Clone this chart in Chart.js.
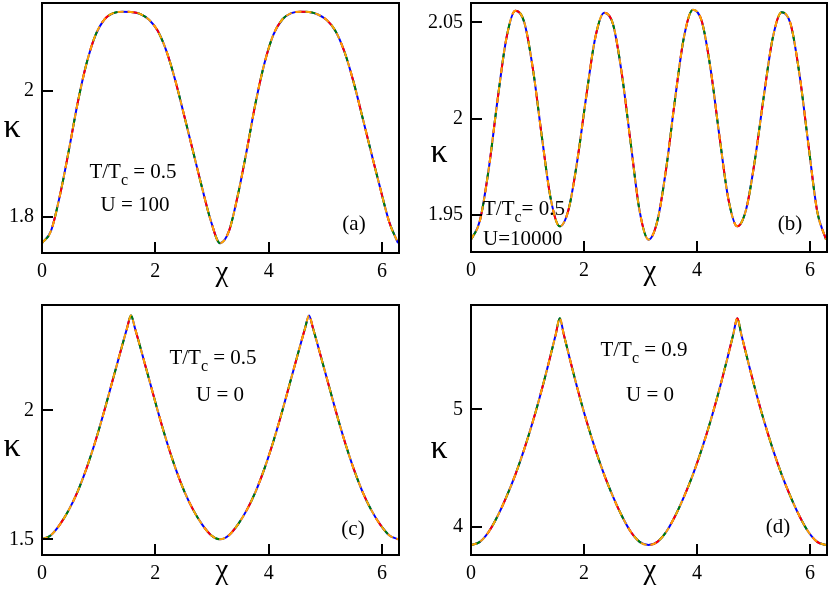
<!DOCTYPE html>
<html><head><meta charset="utf-8">
<script src="https://cdn.jsdelivr.net/npm/chart.js@4/dist/chart.umd.min.js"></script>
<style>
html,body{margin:0;padding:0;background:#fff;}
#wrap{position:relative;width:830px;height:592px;overflow:hidden;background:#fff;}
#wrap canvas{position:absolute;}
</style></head><body>
<div id="wrap">
<canvas id="ca" width="415" height="296" style="left:0;top:0"></canvas>
<canvas id="cb" width="415" height="296" style="left:415px;top:0"></canvas>
<canvas id="cc" width="415" height="296" style="left:0;top:296px"></canvas>
<canvas id="cd" width="415" height="296" style="left:415px;top:296px"></canvas>
</div>
<script>
// ---- data ----
const chi = [0, 0.1571, 0.3142, 0.4712, 0.6283, 0.7854, 0.9425, 1.0996, 1.2566, 1.4137,
  1.5708, 1.7279, 1.8850, 2.0420, 2.1991, 2.3562, 2.5133, 2.6704, 2.8274, 2.9845,
  3.1416, 3.2987, 3.4558, 3.6128, 3.7699, 3.9270, 4.0841, 4.2412, 4.3982, 4.5553,
  4.7124, 4.8695, 5.0265, 5.1836, 5.3407, 5.4978, 5.6549, 5.8119, 5.9690, 6.1261, 6.2832];

// same grid with extra samples close to the sharp maxima of panels (c) and (d)
const chiPeak = [0, 0.1571, 0.3142, 0.4712, 0.6283, 0.7854, 0.9425, 1.0996, 1.2566, 1.4137,
  1.5008, 1.5708, 1.6408, 1.7279, 1.8850, 2.0420, 2.1991, 2.3562, 2.5133, 2.6704, 2.8274, 2.9845,
  3.1416, 3.2987, 3.4558, 3.6128, 3.7699, 3.9270, 4.0841, 4.2412, 4.3982, 4.5553,
  4.6424, 4.7124, 4.7824, 4.8695, 5.0265, 5.1836, 5.3407, 5.4978, 5.6549, 5.8119, 5.9690, 6.1261, 6.2832];

const kappaA = [1.758, 1.777, 1.833, 1.904, 1.980, 2.043, 2.088, 2.113, 2.123, 2.1255,
  2.125, 2.122, 2.113, 2.095, 2.062, 2.015, 1.959, 1.902, 1.845, 1.792,
  1.758, 1.777, 1.834, 1.905, 1.981, 2.044, 2.089, 2.113, 2.123, 2.1255,
  2.125, 2.121, 2.112, 2.094, 2.061, 2.014, 1.958, 1.901, 1.845, 1.792, 1.758];

const kappaB = [1.9372, 1.9470, 1.9740, 2.0100, 2.0420, 2.0560, 2.0500, 2.0250, 1.9900, 1.9580,
  1.9441, 1.9530, 1.9790, 2.0120, 2.0420, 2.0550, 2.0490, 2.0230, 1.9870, 1.9520,
  1.9372, 1.9470, 1.9745, 2.0105, 2.0425, 2.0565, 2.0505, 2.0255, 1.9905, 1.9582,
  1.9441, 1.9530, 1.9790, 2.0120, 2.0420, 2.0552, 2.0492, 2.0232, 1.9870, 1.9520, 1.9372];

const kappaC = [1.500, 1.516, 1.557, 1.613, 1.685, 1.775, 1.880, 1.998, 2.124, 2.250,
  2.318, 2.367, 2.318, 2.250, 2.124, 1.998, 1.880, 1.775, 1.685, 1.613, 1.557, 1.516,
  1.500, 1.516, 1.557, 1.613, 1.685, 1.775, 1.880, 1.998, 2.124, 2.250,
  2.318, 2.367, 2.318, 2.250, 2.124, 1.998, 1.880, 1.775, 1.685, 1.613, 1.557, 1.516, 1.500];

const kappaD = [3.844, 3.871, 3.957, 4.091, 4.256, 4.444, 4.661, 4.904, 5.175, 5.470,
  5.640, 5.776, 5.640, 5.470, 5.175, 4.904, 4.661, 4.444, 4.256, 4.091, 3.957, 3.871,
  3.844, 3.871, 3.957, 4.091, 4.256, 4.444, 4.661, 4.904, 5.175, 5.470,
  5.640, 5.776, 5.640, 5.470, 5.175, 4.904, 4.661, 4.444, 4.256, 4.091, 3.957, 3.871, 3.844];

const xTicks = [0, 2, 4, 6];
const yTicksA = [1.8, 2];
const yTicksB = [1.95, 2, 2.05];
const yTicksC = [1.5, 2];
const yTicksD = [4, 5];

const labelsA = ['0.5', 'U = 100', '(a)'];
const labelsB = ['0.5', 'U=10000', '(b)'];
const labelsC = ['0.5', 'U = 0', '(c)'];
const labelsD = ['0.9', 'U = 0', '(d)'];

// ---- styling / layout ----
const FONT = '"Liberation Serif", "Times New Roman", serif';
Chart.defaults.font.family = FONT;
Chart.defaults.color = '#000';

const framePlugin = {
  id: 'frame',
  afterDraw(chart, args, opts) {
    const {ctx, chartArea: {left, top, right, bottom}, scales: {x, y}} = chart;
    ctx.save();
    ctx.strokeStyle = '#000';
    ctx.lineWidth = 2;
    ctx.strokeRect(left, top, right - left, bottom - top);
    ctx.beginPath();
    y.ticks.forEach(t => {
      const py = Math.round(y.getPixelForValue(t.value));
      ctx.moveTo(left, py); ctx.lineTo(left + 11, py);
    });
    x.ticks.forEach(t => {
      if (t.value <= x.min) return;
      const px = Math.round(x.getPixelForValue(t.value));
      ctx.moveTo(px, bottom); ctx.lineTo(px, bottom - 11);
    });
    ctx.stroke();
    ctx.fillStyle = '#000';
    ctx.textAlign = 'left';
    ctx.textBaseline = 'alphabetic';
    (opts.texts || []).forEach(item => {
      const size = item.size || 21;
      const fontFor = r => (r.sub ? Math.round(size * 0.75) : size) + 'px ' + FONT;
      let total = 0;
      const widths = item.runs.map(r => { ctx.font = fontFor(r); const w = ctx.measureText(r.t).width; total += w; return w; });
      let cx = item.align === 'center' ? item.x - total / 2 : item.x;
      item.runs.forEach((r, i) => {
        ctx.font = fontFor(r);
        ctx.fillText(r.t, cx, item.y + (r.sub ? size * 0.32 : 0));
        cx += widths[i];
      });
    });
    ctx.restore();
  }
};

function lineSets(xs, kappa) {
  const pts = xs.map((c, i) => ({x: c, y: kappa[i]}));
  const base = {borderWidth: 2, pointRadius: 0, fill: false, cubicInterpolationMode: 'monotone'};
  return [
    Object.assign({data: pts, borderColor: '#ffa500', borderDash: [6, 4], order: 0}, base),
    Object.assign({data: pts, borderColor: '#ff0000', borderDash: [10, 20], borderDashOffset: 10, order: 1}, base),
    Object.assign({data: pts, borderColor: '#008000', borderDash: [10, 20], borderDashOffset: 0, order: 2}, base),
    Object.assign({data: pts, borderColor: '#0000ff', order: 3}, base)
  ];
}

function makeChart(id, xs, kappa, yMin, yMax, yTicks, area, texts) {
  return new Chart(document.getElementById(id), {
    type: 'line',
    data: {datasets: lineSets(xs, kappa)},
    options: {
      responsive: false,
      animation: false,
      events: [],
      layout: {padding: {top: area.top, right: 415 - area.right, left: 0, bottom: 0}},
      plugins: {legend: {display: false}, tooltip: {enabled: false}, frame: {texts}},
      scales: {
        x: {
          type: 'linear', min: 0, max: 6.3,
          afterBuildTicks: s => { s.ticks = xTicks.map(v => ({value: v})); },
          afterFit: s => { s.height = 296 - area.bottom; s.paddingLeft = 0; s.paddingRight = 0; },
          grid: {display: false, drawTicks: false},
          border: {display: false},
          ticks: {font: {size: 20}, color: '#000', padding: 7, maxRotation: 0, autoSkip: false, callback: v => String(v)}
        },
        y: {
          type: 'linear', min: yMin, max: yMax,
          afterBuildTicks: s => { s.ticks = yTicks.map(v => ({value: v})); },
          afterFit: s => { s.width = area.left; s.paddingTop = 0; s.paddingBottom = 0; },
          grid: {display: false, drawTicks: false},
          border: {display: false},
          ticks: {font: {size: 20}, color: '#000', padding: 8, autoSkip: false, callback: v => String(v)}
        }
      }
    },
    plugins: [framePlugin]
  });
}

function tcRuns(sep, val) { return [{t: 'T/T'}, {t: 'c', sub: true}, {t: sep + val}]; }
function titles(kx, ky, cx, cy) {
  return [
    {runs: [{t: 'κ'}], x: kx, y: ky, align: 'center', size: 34},
    {runs: [{t: 'χ'}], x: cx, y: cy, align: 'center', size: 29}
  ];
}

makeChart('ca', chi, kappaA, 1.7424, 2.1392, yTicksA, {left: 42, top: 3, right: 399, bottom: 253},
  titles(12, 137, 222, 281).concat([
    {runs: tcRuns(' = ', labelsA[0]), x: 133, y: 178, align: 'center'},
    {runs: [{t: labelsA[1]}], x: 135, y: 211, align: 'center'},
    {runs: [{t: labelsA[2]}], x: 354, y: 230, align: 'center'}
  ]));

makeChart('cb', chi, kappaB, 1.9308, 2.0600, yTicksB, {left: 56, top: 3, right: 412, bottom: 252},
  titles(24, 162, 235, 280).concat([
    {runs: tcRuns('= ', labelsB[0]), x: 68, y: 215, align: 'left'},
    {runs: [{t: labelsB[1]}], x: 68, y: 245, align: 'left'},
    {runs: [{t: labelsB[2]}], x: 375, y: 230, align: 'center'}
  ]));

makeChart('cc', chiPeak, kappaC, 1.4391, 2.4081, yTicksC, {left: 42, top: 9, right: 399, bottom: 259},
  titles(12, 160, 222, 283).concat([
    {runs: tcRuns(' = ', labelsC[0]), x: 213, y: 68, align: 'center'},
    {runs: [{t: labelsC[1]}], x: 220, y: 105, align: 'center'},
    {runs: [{t: labelsC[2]}], x: 353, y: 239, align: 'center'}
  ]));

makeChart('cd', chiPeak, kappaD, 3.759, 5.888, yTicksD, {left: 56, top: 9, right: 412, bottom: 259},
  titles(24, 162, 235, 283).concat([
    {runs: tcRuns(' = ', labelsD[0]), x: 229, y: 60, align: 'center'},
    {runs: [{t: labelsD[1]}], x: 235, y: 105, align: 'center'},
    {runs: [{t: labelsD[2]}], x: 363, y: 237, align: 'center'}
  ]));
</script>
</body></html>
